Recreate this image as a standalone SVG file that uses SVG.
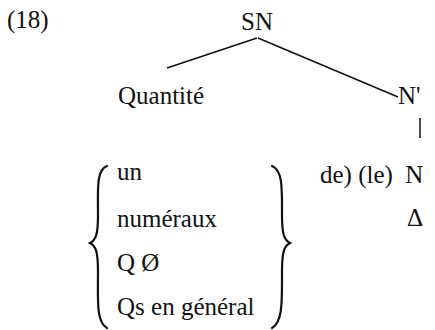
<svg xmlns="http://www.w3.org/2000/svg" width="435" height="330" viewBox="0 0 435 330">
<style>
.t{font-family:"Liberation Serif","Times New Roman",serif;font-size:25px;fill:#111}
.l{stroke:#111;stroke-width:1.5;fill:none}
.b{fill:none;stroke:#111;stroke-width:2.2;stroke-linecap:round}
</style>
<rect width="435" height="330" fill="#fff"/>
<text class="t" x="7" y="28">(18)</text>
<g id="SN"><text class="t" x="241" y="30">SN</text></g>
<g id="Quantite"><text class="t" x="118" y="104">Quantité</text></g>
<g id="Nbar"><text class="t" x="398" y="104">N'</text></g>
<g id="list">
<text class="t" x="117" y="180">un</text>
<text class="t" x="117" y="227">numéraux</text>
<text class="t" x="117" y="271">Q Ø</text>
<text class="t" x="117" y="315">Qs en général</text>
<path class="b" d="M107,166 C96,170 98,190 98,215 C98,234 96,240 90,243 C96,246 98,252 98,272 C98,300 96,322 107,328"/>
<path class="b" d="M272,166 C283,170 282,190 282,215 C282,234 284,240 290,243 C284,246 282,252 282,272 C282,300 283,322 272,328"/>
</g>
<g id="N"><text class="t" x="320" y="183" xml:space="preserve">de) (le)  N</text></g>
<g id="Delta"><text class="t" x="407" y="226">Δ</text></g>
<g id="connectors">
<line class="l" x1="257" y1="38" x2="167" y2="68"/>
<line class="l" x1="258" y1="38" x2="398" y2="97"/>
<line class="l" x1="420" y1="118" x2="420" y2="138"/>
</g>
</svg>
